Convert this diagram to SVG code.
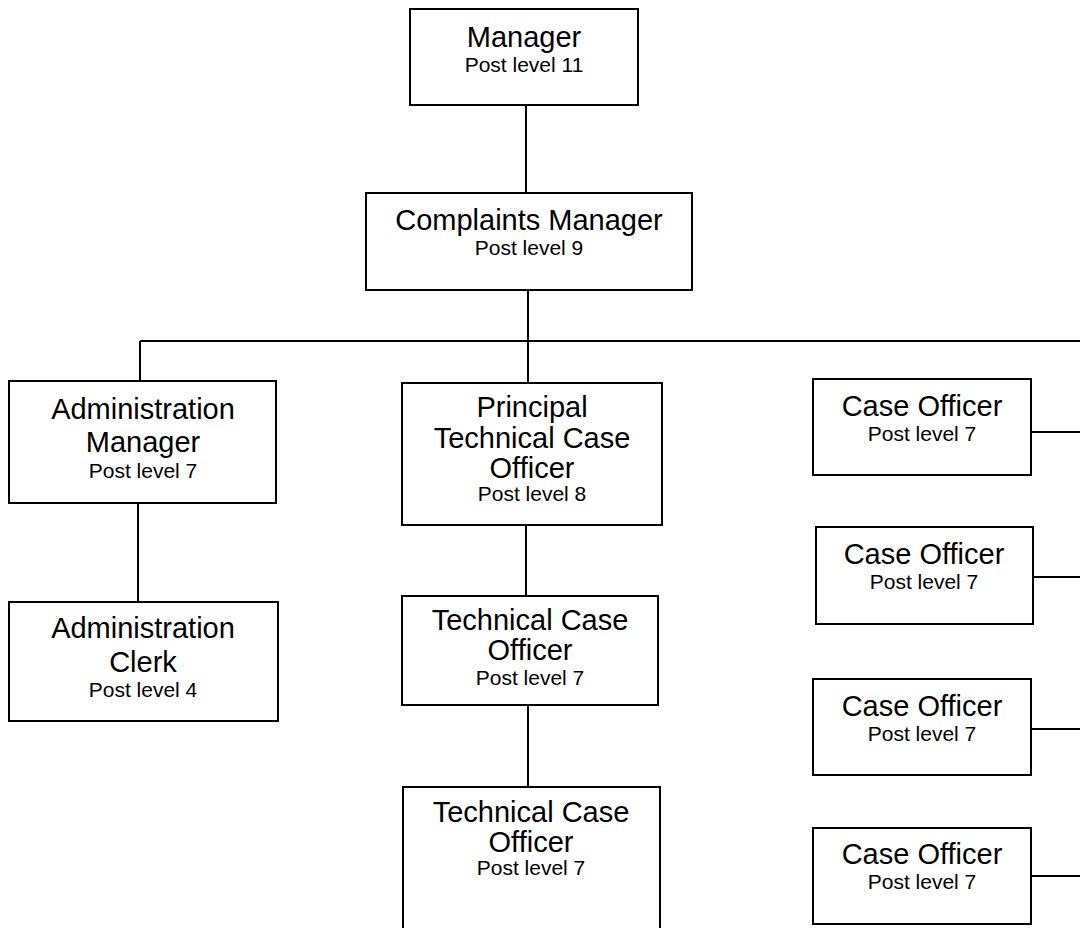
<svg xmlns="http://www.w3.org/2000/svg" width="1080" height="928" viewBox="0 0 1080 928">
<style>
.box{fill:#fff;stroke:#000;stroke-width:2}
.ln{stroke:#000;stroke-width:2;fill:none}
.t{font-family:"Liberation Sans",Arial,sans-serif;font-size:29px;text-anchor:middle;fill:#000}
.s{font-family:"Liberation Sans",Arial,sans-serif;font-size:21px;text-anchor:middle;fill:#000}
</style>
<rect width="1080" height="928" fill="#fff"/>
<g id="connectors">
<line class="ln" x1="526" y1="105" x2="526" y2="193"/>
<line class="ln" x1="528" y1="290" x2="528" y2="383"/>
<line class="ln" x1="140" y1="341" x2="1080" y2="341"/>
<line class="ln" x1="140" y1="341" x2="140" y2="381"/>
<line class="ln" x1="138" y1="503" x2="138" y2="602"/>
<line class="ln" x1="526" y1="525" x2="526" y2="596"/>
<line class="ln" x1="528" y1="705" x2="528" y2="787"/>
<line class="ln" x1="1031" y1="432" x2="1080" y2="432"/>
<line class="ln" x1="1033" y1="577" x2="1080" y2="577"/>
<line class="ln" x1="1031" y1="729" x2="1080" y2="729"/>
<line class="ln" x1="1031" y1="876" x2="1080" y2="876"/>
</g>
<g id="manager">
<rect class="box" x="410" y="9" width="228" height="96"/>
<text class="t" x="524" y="47">Manager</text>
<text class="s" x="524" y="72">Post level 11</text>
</g>
<g id="complaints-manager">
<rect class="box" x="366" y="193" width="326" height="97"/>
<text class="t" x="529" y="230">Complaints Manager</text>
<text class="s" x="529" y="255">Post level 9</text>
</g>
<g id="admin-manager">
<rect class="box" x="9" y="381" width="267" height="122"/>
<text class="t" x="143" y="419">Administration</text>
<text class="t" x="143" y="452">Manager</text>
<text class="s" x="143" y="478">Post level 7</text>
</g>
<g id="admin-clerk">
<rect class="box" x="9" y="602" width="269" height="119"/>
<text class="t" x="143" y="638">Administration</text>
<text class="t" x="143" y="672">Clerk</text>
<text class="s" x="143" y="697">Post level 4</text>
</g>
<g id="principal-tco">
<rect class="box" x="402" y="383" width="260" height="142"/>
<text class="t" x="532" y="417">Principal</text>
<text class="t" x="532" y="448">Technical Case</text>
<text class="t" x="532" y="478">Officer</text>
<text class="s" x="532" y="501">Post level 8</text>
</g>
<g id="tco-1">
<rect class="box" x="402" y="596" width="256" height="109"/>
<text class="t" x="530" y="630">Technical Case</text>
<text class="t" x="530" y="660">Officer</text>
<text class="s" x="530" y="685">Post level 7</text>
</g>
<g id="tco-2">
<rect class="box" x="403" y="787" width="257" height="150"/>
<text class="t" x="531" y="822">Technical Case</text>
<text class="t" x="531" y="852">Officer</text>
<text class="s" x="531" y="875">Post level 7</text>
</g>
<g id="case-officer-1">
<rect class="box" x="813" y="379" width="218" height="96"/>
<text class="t" x="922" y="416">Case Officer</text>
<text class="s" x="922" y="441">Post level 7</text>
</g>
<g id="case-officer-2">
<rect class="box" x="816" y="527" width="217" height="97"/>
<text class="t" x="924" y="564">Case Officer</text>
<text class="s" x="924" y="589">Post level 7</text>
</g>
<g id="case-officer-3">
<rect class="box" x="813" y="679" width="218" height="96"/>
<text class="t" x="922" y="716">Case Officer</text>
<text class="s" x="922" y="741">Post level 7</text>
</g>
<g id="case-officer-4">
<rect class="box" x="813" y="828" width="218" height="96"/>
<text class="t" x="922" y="864">Case Officer</text>
<text class="s" x="922" y="889">Post level 7</text>
</g>
</svg>
